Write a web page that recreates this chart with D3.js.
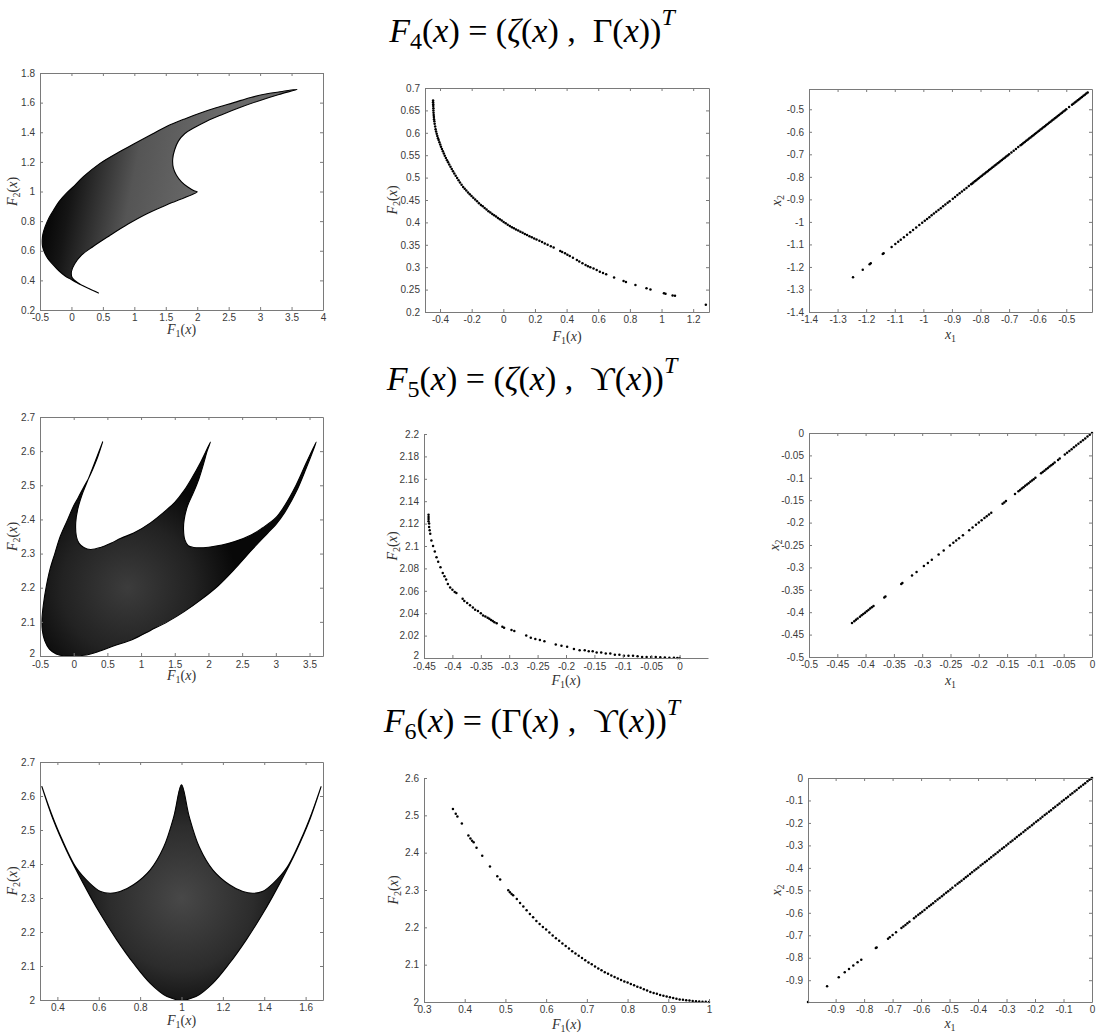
<!DOCTYPE html>
<html><head><meta charset="utf-8">
<script src="https://cdn.jsdelivr.net/npm/d3@7"></script>
<style>body{margin:0;background:#fff}</style>
</head><body>
<script>
// ---------------- DATA ----------------
// tick labels
const p1XTicks=[-0.5,0,0.5,1,1.5,2,2.5,3,3.5,4], p1YTicks=[0.2,0.4,0.6,0.8,1,1.2,1.4,1.6,1.8];
const p2XTicks=[-0.4,-0.2,0,0.2,0.4,0.6,0.8,1,1.2], p2YTicks=[0.2,0.25,0.3,0.35,0.4,0.45,0.5,0.55,0.6,0.65,0.7];
const p3XTicks=[-1.4,-1.3,-1.2,-1.1,-1,-0.9,-0.8,-0.7,-0.6,-0.5], p3YTicks=[-1.4,-1.3,-1.2,-1.1,-1,-0.9,-0.8,-0.7,-0.6,-0.5];
const p4XTicks=[-0.5,0,0.5,1,1.5,2,2.5,3,3.5], p4YTicks=[2,2.1,2.2,2.3,2.4,2.5,2.6,2.7];
const p5XTicks=[-0.45,-0.4,-0.35,-0.3,-0.25,-0.2,-0.15,-0.1,-0.05,0], p5YTicks=[2,2.02,2.04,2.06,2.08,2.1,2.12,2.14,2.16,2.18,2.2];
const p6XTicks=[-0.5,-0.45,-0.4,-0.35,-0.3,-0.25,-0.2,-0.15,-0.1,-0.05,0], p6YTicks=[-0.5,-0.45,-0.4,-0.35,-0.3,-0.25,-0.2,-0.15,-0.1,-0.05,0];
const p7XTicks=[0.4,0.6,0.8,1,1.2,1.4,1.6], p7YTicks=[2,2.1,2.2,2.3,2.4,2.5,2.6,2.7];
const p8XTicks=[0.3,0.4,0.5,0.6,0.7,0.8,0.9,1], p8YTicks=[2,2.1,2.2,2.3,2.4,2.5,2.6];
const p9XTicks=[-0.9,-0.8,-0.7,-0.6,-0.5,-0.4,-0.3,-0.2,-0.1,0], p9YTicks=[-0.9,-0.8,-0.7,-0.6,-0.5,-0.4,-0.3,-0.2,-0.1,0];

// F4 objective-space region (boundary of the dense mesh)
const f4RegionOuter=[[0.43,0.315],[0.3,0.34],[0.15,0.37],[0,0.405],[-0.1,0.43],[-0.2,0.465],[-0.3,0.51],[-0.38,0.55],[-0.43,0.59],[-0.46,0.63],[-0.465,0.67],[-0.455,0.71],[-0.42,0.76],[-0.36,0.82],[-0.29,0.87],[-0.2,0.93],[-0.075,0.99],[0.05,1.04],[0.19,1.1],[0.455,1.19],[0.75,1.265],[0.99,1.32],[1.25,1.38],[1.52,1.44],[1.8,1.49],[2.05,1.53],[2.3,1.565],[2.58,1.6],[2.85,1.635],[3.11,1.66],[3.35,1.675],[3.59,1.69]];
const f4RegionRight=[[3.3,1.655],[3,1.615],[2.7,1.57],[2.4,1.52],[2.15,1.475],[1.95,1.43],[1.8,1.39],[1.7,1.34],[1.64,1.28],[1.61,1.22],[1.62,1.16],[1.67,1.11],[1.75,1.065],[1.85,1.03],[1.95,1.005],[2,0.998]];
const f4RegionInner=[[1.6,0.925],[1.2,0.85],[0.9,0.78],[0.6,0.7],[0.35,0.63],[0.16,0.57],[0.05,0.51],[0,0.46],[0.01,0.42],[0.1,0.385],[0.25,0.35],[0.43,0.315]];
// F5 objective-space region
const f5RegionLower=[[0.43,2.627],[0.36,2.585],[0.3,2.555],[0.22,2.52],[0.15,2.495],[0.07,2.465],[0,2.44],[-0.1,2.395],[-0.2,2.35],[-0.28,2.3],[-0.35,2.255],[-0.41,2.2],[-0.45,2.15],[-0.47,2.11],[-0.465,2.075],[-0.43,2.045],[-0.36,2.02],[-0.26,2.006],[-0.12,2],[0,2],[0.15,2.002],[0.35,2.012],[0.6,2.03],[0.89,2.05],[1.14,2.075],[1.39,2.1],[1.64,2.13],[1.89,2.165],[2.14,2.205],[2.39,2.255],[2.64,2.31],[2.88,2.36],[3,2.385],[3.13,2.42],[3.3,2.48],[3.45,2.55],[3.6,2.627]];
const f5RegionUpper=[[3.45,2.565],[3.3,2.5],[3.13,2.44],[3,2.405],[2.8,2.375],[2.64,2.355],[2.39,2.335],[2.2,2.325],[2.05,2.32],[1.9,2.317],[1.78,2.318],[1.7,2.323],[1.65,2.34],[1.63,2.37],[1.64,2.4],[1.69,2.44],[1.78,2.48],[1.86,2.52],[1.93,2.565],[1.98,2.6],[2.03,2.627],[1.89,2.57],[1.75,2.52],[1.64,2.485],[1.5,2.45],[1.39,2.43],[1.14,2.39],[0.89,2.36],[0.7,2.345],[0.55,2.33],[0.4,2.318],[0.25,2.312],[0.15,2.318],[0.08,2.33],[0.04,2.35],[0.03,2.39],[0.06,2.43],[0.12,2.47],[0.2,2.51],[0.3,2.56],[0.43,2.627]];
// F6 objective-space region
const f6RegionLower=[[0.325,2.628],[0.38,2.53],[0.444,2.44],[0.525,2.343],[0.606,2.255],[0.687,2.177],[0.768,2.108],[0.849,2.049],[0.93,2.01],[1,2],[1.07,2.01],[1.151,2.049],[1.232,2.108],[1.313,2.177],[1.394,2.255],[1.475,2.343],[1.556,2.44],[1.62,2.53],[1.675,2.628]];
const f6RegionUpper=[[1.63,2.55],[1.59,2.49],[1.51,2.39],[1.443,2.343],[1.394,2.32],[1.345,2.314],[1.297,2.319],[1.232,2.339],[1.151,2.383],[1.086,2.45],[1.037,2.54],[1,2.633],[0.963,2.54],[0.914,2.45],[0.849,2.383],[0.768,2.339],[0.703,2.319],[0.655,2.314],[0.606,2.32],[0.557,2.343],[0.49,2.39],[0.41,2.49],[0.37,2.55],[0.325,2.628]];

// F4 Pareto front  [F1, F2]
const f4Front=[[-0.444,0.672],[-0.444,0.668],[-0.443,0.664],[-0.443,0.66],[-0.442,0.655],[-0.442,0.65],[-0.441,0.645],[-0.44,0.64],[-0.439,0.635],[-0.438,0.63],[-0.436,0.626],[-0.434,0.62],[-0.431,0.614],[-0.428,0.608],[-0.425,0.603],[-0.421,0.598],[-0.417,0.593],[-0.413,0.588],[-0.409,0.584],[-0.404,0.579],[-0.399,0.574],[-0.394,0.569],[-0.388,0.564],[-0.382,0.559],[-0.376,0.554],[-0.37,0.549],[-0.363,0.544],[-0.356,0.539],[-0.349,0.534],[-0.342,0.529],[-0.334,0.524],[-0.326,0.519],[-0.318,0.514],[-0.31,0.509],[-0.301,0.504],[-0.292,0.499],[-0.283,0.494],[-0.274,0.489],[-0.264,0.484],[-0.254,0.479],[-0.244,0.475],[-0.234,0.471],[-0.223,0.467],[-0.212,0.463],[-0.201,0.459],[-0.19,0.455],[-0.178,0.451],[-0.166,0.447],[-0.154,0.443],[-0.142,0.439],[-0.13,0.436],[-0.118,0.432],[-0.106,0.429],[-0.094,0.425],[-0.082,0.422],[-0.07,0.419],[-0.058,0.416],[-0.046,0.413],[-0.034,0.41],[-0.022,0.407],[-0.01,0.404],[0.002,0.401],[0.015,0.398],[0.028,0.395],[0.041,0.392],[0.054,0.389],[0.067,0.387],[0.08,0.384],[0.094,0.382],[0.108,0.379],[0.122,0.377],[0.136,0.374],[0.15,0.372],[0.165,0.369],[0.18,0.367],[0.195,0.364],[0.21,0.362],[0.228,0.359],[0.245,0.356],[0.262,0.353],[0.28,0.35],[0.3,0.347],[0.318,0.344],[0.36,0.336],[0.372,0.334],[0.39,0.331],[0.405,0.328],[0.42,0.325],[0.44,0.321],[0.465,0.316],[0.48,0.313],[0.5,0.309],[0.52,0.305],[0.535,0.302],[0.55,0.3],[0.57,0.297],[0.59,0.294],[0.61,0.29],[0.63,0.287],[0.65,0.284],[0.7,0.277],[0.76,0.269],[0.775,0.267],[0.835,0.26],[0.905,0.253],[0.93,0.25],[1.015,0.242],[1.025,0.241],[1.07,0.237],[1.085,0.236],[1.28,0.216]];
// F4 Pareto set [x1, x2]
const f4Set=[[-1.246,-1.246],[-1.212,-1.212],[-1.188,-1.188],[-1.184,-1.184],[-1.142,-1.142],[-1.139,-1.139],[-1.111,-1.111],[-1.098,-1.098],[-1.088,-1.088],[-1.079,-1.079],[-1.068,-1.068],[-1.057,-1.057],[-1.046,-1.046],[-1.036,-1.036],[-1.025,-1.025],[-1.014,-1.014],[-1.004,-1.004],[-0.995,-0.995],[-0.987,-0.987],[-0.979,-0.979],[-0.971,-0.971],[-0.963,-0.963],[-0.955,-0.955],[-0.947,-0.947],[-0.939,-0.939],[-0.931,-0.931],[-0.923,-0.923],[-0.915,-0.915],[-0.908,-0.908],[-0.897,-0.897],[-0.889,-0.889],[-0.881,-0.881],[-0.873,-0.873],[-0.865,-0.865],[-0.857,-0.857],[-0.849,-0.849],[-0.841,-0.841],[-0.833,-0.833],[-0.829,-0.829],[-0.825,-0.825],[-0.82,-0.82],[-0.815,-0.815],[-0.81,-0.81],[-0.805,-0.805],[-0.8,-0.8],[-0.795,-0.795],[-0.79,-0.79],[-0.785,-0.785],[-0.78,-0.78],[-0.775,-0.775],[-0.77,-0.77],[-0.765,-0.765],[-0.76,-0.76],[-0.755,-0.755],[-0.75,-0.75],[-0.745,-0.745],[-0.74,-0.74],[-0.735,-0.735],[-0.73,-0.73],[-0.725,-0.725],[-0.72,-0.72],[-0.715,-0.715],[-0.71,-0.71],[-0.705,-0.705],[-0.7,-0.7],[-0.692,-0.692],[-0.684,-0.684],[-0.676,-0.676],[-0.668,-0.668],[-0.66,-0.66],[-0.655,-0.655],[-0.65,-0.65],[-0.645,-0.645],[-0.64,-0.64],[-0.635,-0.635],[-0.63,-0.63],[-0.625,-0.625],[-0.62,-0.62],[-0.615,-0.615],[-0.61,-0.61],[-0.605,-0.605],[-0.6,-0.6],[-0.595,-0.595],[-0.59,-0.59],[-0.585,-0.585],[-0.58,-0.58],[-0.575,-0.575],[-0.57,-0.57],[-0.565,-0.565],[-0.56,-0.56],[-0.555,-0.555],[-0.55,-0.55],[-0.545,-0.545],[-0.54,-0.54],[-0.535,-0.535],[-0.53,-0.53],[-0.525,-0.525],[-0.52,-0.52],[-0.515,-0.515],[-0.51,-0.51],[-0.505,-0.505],[-0.5,-0.5],[-0.49,-0.49],[-0.48,-0.48],[-0.475,-0.475],[-0.47,-0.47],[-0.465,-0.465],[-0.46,-0.46],[-0.455,-0.455],[-0.45,-0.45],[-0.445,-0.445],[-0.44,-0.44],[-0.435,-0.435],[-0.43,-0.43],[-0.425,-0.425]];
// F5 Pareto front
const f5Front=[[-0.442,2.128],[-0.442,2.126],[-0.442,2.124],[-0.442,2.122],[-0.441,2.12],[-0.441,2.117],[-0.44,2.114],[-0.439,2.111],[-0.437,2.105],[-0.434,2.1],[-0.431,2.095],[-0.428,2.09],[-0.425,2.086],[-0.421,2.081],[-0.417,2.076],[-0.414,2.073],[-0.411,2.07],[-0.408,2.066],[-0.404,2.063],[-0.4,2.061],[-0.396,2.059],[-0.393,2.058],[-0.382,2.053],[-0.379,2.051],[-0.374,2.049],[-0.369,2.047],[-0.364,2.045],[-0.36,2.043],[-0.355,2.042],[-0.35,2.04],[-0.346,2.038],[-0.342,2.037],[-0.338,2.036],[-0.335,2.035],[-0.332,2.034],[-0.329,2.033],[-0.326,2.032],[-0.322,2.031],[-0.312,2.028],[-0.309,2.027],[-0.296,2.025],[-0.291,2.024],[-0.27,2.02],[-0.262,2.018],[-0.254,2.017],[-0.246,2.016],[-0.238,2.015],[-0.218,2.012],[-0.208,2.011],[-0.198,2.01],[-0.186,2.008],[-0.176,2.007],[-0.167,2.007],[-0.16,2.006],[-0.153,2.006],[-0.146,2.005],[-0.138,2.005],[-0.13,2.004],[-0.122,2.004],[-0.114,2.003],[-0.106,2.003],[-0.098,2.002],[-0.09,2.002],[-0.082,2.002],[-0.074,2.0015],[-0.066,2.001],[-0.058,2.001],[-0.05,2.001],[-0.042,2.0008],[-0.034,2.0006],[-0.026,2.0004],[-0.018,2.0003],[-0.01,2.0002],[-0.004,2.0001],[0,2]];
// F5 Pareto set
const f5Set=[[-0.424,-0.424],[-0.42,-0.42],[-0.417,-0.417],[-0.414,-0.414],[-0.41,-0.41],[-0.407,-0.407],[-0.404,-0.404],[-0.401,-0.401],[-0.398,-0.398],[-0.395,-0.395],[-0.392,-0.392],[-0.389,-0.389],[-0.386,-0.386],[-0.367,-0.367],[-0.365,-0.365],[-0.337,-0.337],[-0.335,-0.335],[-0.318,-0.318],[-0.31,-0.31],[-0.297,-0.297],[-0.29,-0.29],[-0.283,-0.283],[-0.271,-0.271],[-0.262,-0.262],[-0.251,-0.251],[-0.245,-0.245],[-0.24,-0.24],[-0.235,-0.235],[-0.228,-0.228],[-0.217,-0.217],[-0.211,-0.211],[-0.205,-0.205],[-0.2,-0.2],[-0.195,-0.195],[-0.19,-0.19],[-0.186,-0.186],[-0.182,-0.182],[-0.178,-0.178],[-0.158,-0.158],[-0.155,-0.155],[-0.152,-0.152],[-0.136,-0.136],[-0.13,-0.13],[-0.127,-0.127],[-0.124,-0.124],[-0.121,-0.121],[-0.118,-0.118],[-0.115,-0.115],[-0.112,-0.112],[-0.109,-0.109],[-0.106,-0.106],[-0.103,-0.103],[-0.1,-0.1],[-0.09,-0.09],[-0.087,-0.087],[-0.084,-0.084],[-0.081,-0.081],[-0.078,-0.078],[-0.075,-0.075],[-0.072,-0.072],[-0.069,-0.069],[-0.066,-0.066],[-0.06,-0.06],[-0.057,-0.057],[-0.048,-0.048],[-0.044,-0.044],[-0.04,-0.04],[-0.036,-0.036],[-0.032,-0.032],[-0.028,-0.028],[-0.024,-0.024],[-0.02,-0.02],[-0.016,-0.016],[-0.012,-0.012],[-0.008,-0.008],[-0.004,-0.004],[0,0]];
// F6 Pareto front
const f6Front=[[0.371,2.517],[0.378,2.504],[0.382,2.497],[0.393,2.478],[0.409,2.446],[0.414,2.438],[0.418,2.432],[0.422,2.428],[0.429,2.413],[0.443,2.392],[0.462,2.363],[0.48,2.337],[0.487,2.328],[0.507,2.299],[0.511,2.294],[0.515,2.289],[0.519,2.286],[0.528,2.276],[0.536,2.265],[0.544,2.256],[0.552,2.246],[0.56,2.236],[0.568,2.227],[0.576,2.217],[0.584,2.209],[0.592,2.201],[0.6,2.194],[0.608,2.186],[0.616,2.178],[0.624,2.171],[0.632,2.164],[0.64,2.157],[0.648,2.15],[0.656,2.143],[0.664,2.136],[0.672,2.13],[0.68,2.124],[0.688,2.118],[0.696,2.112],[0.704,2.106],[0.712,2.101],[0.72,2.095],[0.728,2.09],[0.736,2.085],[0.744,2.08],[0.752,2.076],[0.76,2.071],[0.768,2.067],[0.776,2.063],[0.784,2.059],[0.792,2.055],[0.8,2.052],[0.808,2.048],[0.816,2.045],[0.824,2.041],[0.832,2.038],[0.84,2.034],[0.848,2.031],[0.856,2.027],[0.864,2.024],[0.872,2.022],[0.88,2.019],[0.888,2.017],[0.896,2.015],[0.904,2.013],[0.912,2.011],[0.92,2.009],[0.928,2.007],[0.936,2.006],[0.944,2.005],[0.952,2.004],[0.96,2.003],[0.968,2.002],[0.976,2.0015],[0.984,2.001],[0.992,2.0005],[1,2]];
// F6 Pareto set
const f6Set=[[-0.997,-0.997],[-0.93,-0.927],[-0.889,-0.887],[-0.868,-0.865],[-0.853,-0.85],[-0.838,-0.835],[-0.823,-0.82],[-0.81,-0.809],[-0.759,-0.757],[-0.756,-0.754],[-0.716,-0.715],[-0.71,-0.709],[-0.7,-0.699],[-0.688,-0.687],[-0.669,-0.668],[-0.662,-0.661],[-0.655,-0.654],[-0.648,-0.647],[-0.641,-0.64],[-0.625,-0.624],[-0.618,-0.617],[-0.61,-0.609],[-0.603,-0.602],[-0.596,-0.595],[-0.588,-0.587],[-0.58,-0.579],[-0.572,-0.571],[-0.565,-0.564],[-0.558,-0.557],[-0.55,-0.549],[-0.542,-0.541],[-0.535,-0.534],[-0.527,-0.526],[-0.52,-0.519],[-0.512,-0.511],[-0.505,-0.504],[-0.497,-0.496],[-0.49,-0.489],[-0.48,-0.479],[-0.472,-0.471],[-0.465,-0.464],[-0.458,-0.457],[-0.45,-0.449],[-0.443,-0.442],[-0.436,-0.435],[-0.428,-0.427],[-0.421,-0.42],[-0.413,-0.412],[-0.406,-0.405],[-0.399,-0.398],[-0.391,-0.39],[-0.384,-0.383],[-0.376,-0.375],[-0.369,-0.368],[-0.361,-0.36],[-0.354,-0.353],[-0.346,-0.345],[-0.339,-0.338],[-0.331,-0.33],[-0.324,-0.323],[-0.316,-0.315],[-0.309,-0.308],[-0.301,-0.3],[-0.294,-0.293],[-0.286,-0.285],[-0.279,-0.278],[-0.271,-0.27],[-0.264,-0.263],[-0.256,-0.255],[-0.249,-0.248],[-0.241,-0.24],[-0.234,-0.233],[-0.226,-0.225],[-0.219,-0.218],[-0.211,-0.21],[-0.204,-0.203],[-0.196,-0.195],[-0.189,-0.188],[-0.181,-0.18],[-0.174,-0.173],[-0.166,-0.165],[-0.159,-0.158],[-0.151,-0.15],[-0.144,-0.143],[-0.136,-0.135],[-0.129,-0.128],[-0.121,-0.12],[-0.114,-0.113],[-0.106,-0.105],[-0.099,-0.098],[-0.091,-0.09],[-0.084,-0.083],[-0.076,-0.075],[-0.069,-0.068],[-0.061,-0.06],[-0.054,-0.053],[-0.046,-0.045],[-0.039,-0.038],[-0.031,-0.03],[-0.024,-0.023],[-0.016,-0.015],[-0.009,-0.008],[-0.003,-0.003],[0,0]];

// ---------------- DRAWING ----------------
const W=1097,H=1035;
const SERIF='"Liberation Serif","DejaVu Serif",serif';
const SANS='"Liberation Sans",Arial,Helvetica,sans-serif';
const AX='#7a7a7a', TX='#3a3a3a';
const svg=d3.select('body').append('svg').attr('width',W).attr('height',H);
const defs=svg.append('defs');

const panels=[
 {L:40,R:323,T:73,B:310,xd:[-0.5,4],yd:[0.2,1.8],xt:p1XTicks,yt:p1YTicks,box:true,lab:'F',xlb:334,ylb:17,region:()=>f4RegionOuter.concat(f4RegionRight,f4RegionInner),grad:'g1'},
 {L:425,R:709,T:88,B:312,xd:[-0.495,1.3],yd:[0.2,0.7],xt:p2XTicks,yt:p2YTicks,box:true,lab:'F',xlb:341,ylb:397,pts:f4Front},
 {L:809,R:1092,T:89,B:312,xd:[-1.4,-0.41],yd:[-1.4,-0.41],xt:p3XTicks,yt:p3YTicks,box:true,lab:'x',xlb:339,ylb:781,pts:f4Set},
 {L:40,R:323,T:417,B:656,xd:[-0.5,3.7],yd:[2,2.7],xt:p4XTicks,yt:p4YTicks,box:true,lab:'F',xlb:680,ylb:17,region:()=>f5RegionLower.concat(f5RegionUpper),grad:'g4',corner:true},
 {L:424,R:708,T:434,B:658,xd:[-0.45,0.05],yd:[2,2.2],xt:p5XTicks,yt:p5YTicks,box:false,lab:'F',xlb:685,ylb:397,pts:f5Front,corner:true},
 {L:809,R:1092,T:433,B:657,xd:[-0.5,0],yd:[-0.5,0],xt:p6XTicks,yt:p6YTicks,box:true,lab:'x',xlb:685,ylb:779,pts:f5Set},
 {L:40,R:323,T:762,B:1000,xd:[0.316,1.684],yd:[2,2.7],xt:p7XTicks,yt:p7YTicks,box:true,lab:'F',xlb:1025,ylb:17,region:()=>f6RegionLower.concat(f6RegionUpper),grad:'g7'},
 {L:424,R:709,T:778,B:1002,xd:[0.3,1],yd:[2,2.6],xt:p8XTicks,yt:p8YTicks,box:false,lab:'F',xlb:1029,ylb:398,pts:f6Front},
 {L:808,R:1092,T:778,B:1002,xd:[-0.997,0],yd:[-0.997,0],xt:p9XTicks,yt:p9YTicks,box:true,lab:'x',xlb:1028,ylb:781,pts:f6Set}
];

const fmt=v=>{const r=Math.round(v*1000)/1000;return r===0?'0':String(r);};

function label(x,y,rot,base,sub,withArg){
  const t=svg.append('text').attr('transform',`translate(${x},${y}) rotate(${rot})`)
    .attr('text-anchor','middle').attr('font-family',SERIF).attr('font-size',14).attr('fill','#333');
  t.append('tspan').attr('font-style','italic').text(base);
  t.append('tspan').attr('font-size',10).attr('dy',3).text(sub);
  if(withArg){
    t.append('tspan').attr('dy',-3).text('(');
    t.append('tspan').attr('font-style','italic').text('x');
    t.append('tspan').text(')');
  }
}

panels.forEach((p,i)=>{
  const x=d3.scaleLinear().domain(p.xd).range([p.L,p.R]);
  const y=d3.scaleLinear().domain(p.yd).range([p.B,p.T]);
  const g=svg.append('g');
  if(p.region){
    if(p.grad==='g1'){
      const lg=defs.append('linearGradient').attr('id','g1').attr('gradientUnits','userSpaceOnUse')
        .attr('x1',x(-0.45)).attr('x2',x(2.0)).attr('y1',y(1.0)).attr('y2',y(0.8));
      [[0,'#000'],[0.18,'#151515'],[0.55,'#555'],[1,'#6a6a6a']].forEach(s=>lg.append('stop').attr('offset',s[0]).attr('stop-color',s[1]));
    } else if(p.grad==='g4'){
      const rg=defs.append('radialGradient').attr('id','g4').attr('gradientUnits','userSpaceOnUse')
        .attr('cx',x(0.8)).attr('cy',y(2.2)).attr('r',110);
      [[0,'#3c3c3c'],[0.6,'#222'],[1,'#080808']].forEach(s=>rg.append('stop').attr('offset',s[0]).attr('stop-color',s[1]));
    } else {
      const rg=defs.append('radialGradient').attr('id','g7').attr('gradientUnits','userSpaceOnUse')
        .attr('cx',x(1)).attr('cy',y(2.3)).attr('r',120);
      [[0,'#484848'],[0.6,'#2c2c2c'],[1,'#0a0a0a']].forEach(s=>rg.append('stop').attr('offset',s[0]).attr('stop-color',s[1]));
    }
    const line=d3.line().x(d=>x(d[0])).y(d=>y(d[1])).curve(d3.curveCatmullRom.alpha(0.5));
    g.append('path').attr('d',line(p.region())+'Z').attr('fill',`url(#${p.grad})`)
      .attr('stroke','#000').attr('stroke-width',1.1).attr('stroke-linejoin','round');
  }
  if(p.pts){
    g.selectAll('circle').data(p.pts).join('circle')
      .attr('cx',d=>x(d[0])).attr('cy',d=>y(d[1])).attr('r',1.25).attr('fill','#000');
  }
  const style=sel=>{
    sel.select('.domain').attr('stroke',AX).attr('stroke-width',1);
    sel.selectAll('.tick line').attr('stroke',AX);
    sel.selectAll('.tick text').attr('fill',TX).attr('font-family',SANS).attr('font-size',10);
  };
  svg.append('g').attr('transform',`translate(0,${p.B})`)
    .call(d3.axisBottom(x).tickValues(p.xt).tickFormat(fmt).tickSize(-3).tickSizeOuter(0).tickPadding(p.corner?5:4)).call(style);
  const ly=svg.append('g').attr('transform',`translate(${p.L},0)`)
    .call(d3.axisLeft(y).tickValues(p.yt).tickFormat(fmt).tickSize(-3).tickSizeOuter(0).tickPadding(5)).call(style);
  if(p.corner){
    // lowest y tick label sits just above the first x tick label, as in the reference
    ly.selectAll('.tick').filter(d=>d===p.yd[0]).select('text').attr('dy','0em');
  }
  if(p.box){
    svg.append('g').attr('transform',`translate(0,${p.T})`)
      .call(d3.axisTop(x).tickValues(p.xt).tickFormat('').tickSize(-3).tickSizeOuter(0)).call(style);
    svg.append('g').attr('transform',`translate(${p.R},0)`)
      .call(d3.axisRight(y).tickValues(p.yt).tickFormat('').tickSize(-3).tickSizeOuter(0)).call(style);
  }
  const cx=(p.L+p.R)/2, cy=(p.T+p.B)/2;
  if(p.lab==='F'){ label(cx,p.xlb,0,'F','1',true); label(p.ylb,cy,-90,'F','2',true); }
  else { label(cx,p.xlb,0,'x','1',false); label(p.ylb,cy,-90,'x','2',false); }
});

// titles
const titles=[
  {y:42,sub:'4',a:'ζ',aIt:true,b:'Γ'},
  {y:390,sub:'5',a:'ζ',aIt:true,b:'ϒ'},
  {y:732,sub:'6',a:'Γ',aIt:false,b:'ϒ'}
];
titles.forEach(t=>{
  const tx=svg.append('text').attr('x',532).attr('y',t.y).attr('text-anchor','middle')
    .attr('font-family',SERIF).attr('font-size',34).attr('fill','#000').style('white-space','pre');
  tx.append('tspan').attr('font-style','italic').text('F');
  tx.append('tspan').attr('font-size',24).attr('dy',7).text(t.sub);
  tx.append('tspan').attr('dy',-7).text('(');
  tx.append('tspan').attr('font-style','italic').text('x');
  tx.append('tspan').text(') = (');
  tx.append('tspan').attr('font-style',t.aIt?'italic':'normal').text(t.a);
  tx.append('tspan').text('(');
  tx.append('tspan').attr('font-style','italic').text('x');
  tx.append('tspan').text(') ,  '+t.b+'(');
  tx.append('tspan').attr('font-style','italic').text('x');
  tx.append('tspan').text('))');
  tx.append('tspan').attr('font-style','italic').attr('font-size',24).attr('dy',-17).text('T');
});
</script>
</body></html>
